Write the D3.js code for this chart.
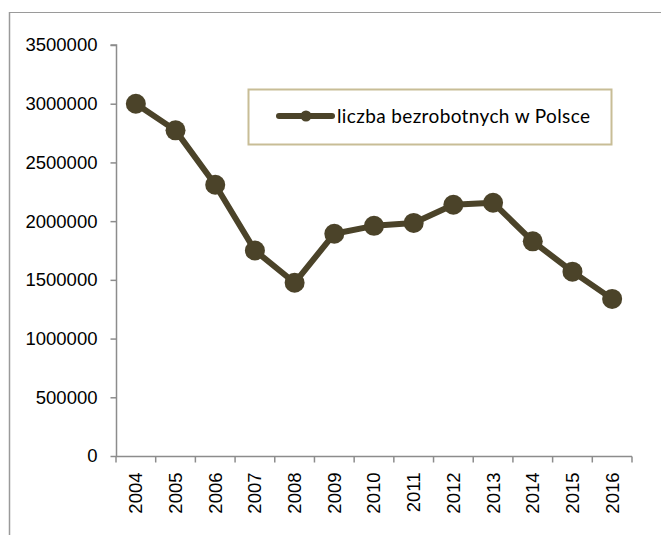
<!DOCTYPE html>
<html>
<head>
<meta charset="utf-8">
<script src="https://cdn.jsdelivr.net/npm/d3@7"></script>
<style>
  body { margin: 0; background: #fff; }
  svg { display: block; }
</style>
</head>
<body>
<script>
// dane
const years = ["2004", "2005", "2006", "2007", "2008", "2009", "2010",
               "2011", "2012", "2013", "2014", "2015", "2016"];
const unemployed = [3000000, 2773000, 2310000, 1750000, 1475000, 1893000, 1960000,
                    1985000, 2140000, 2157000, 1828000, 1570000, 1338000];
const yTicks = [0, 500000, 1000000, 1500000, 2000000, 2500000, 3000000, 3500000];
const seriesName = "liczba bezrobotnych w Polsce";

const width = 661;
const height = 535;
const lineColor = "#4b4329";
const axisColor = "#8c8c8c";

const svg = d3.select("body").append("svg")
    .attr("width", width)
    .attr("height", height);

// obramowanie (widoczne tylko górna i lewa krawędź)
svg.append("line")
    .attr("x1", 9).attr("x2", width).attr("y1", 12.5).attr("y2", 12.5)
    .attr("stroke", "#9a9a9a").attr("stroke-width", 1);
svg.append("line")
    .attr("x1", 9.5).attr("x2", 9.5).attr("y1", 12).attr("y2", height)
    .attr("stroke", "#9a9a9a").attr("stroke-width", 1.5);

const xScale = d3.scaleBand()
    .domain(years)
    .range([116, 632])
    .padding(0);

const yScale = d3.scaleLinear()
    .domain([0, 3500000])
    .range([456, 45]);

// oś Y
const yAxis = d3.axisLeft(yScale)
    .tickValues(yTicks)
    .tickFormat(d3.format("d"))
    .tickSize(6)
    .tickPadding(13);

const gy = svg.append("g")
    .attr("transform", "translate(116.5,0)")
    .call(yAxis);
gy.select(".domain").attr("stroke", axisColor).attr("stroke-width", 1.5).attr("d", `M-6,${yScale(3500000)}H0V${yScale(0)}`);
gy.selectAll(".tick line").attr("stroke", axisColor).attr("stroke-width", 1.5);
gy.selectAll(".tick text")
    .attr("fill", "#000")
    .style("font-family", "'Liberation Sans', Arial, sans-serif")
    .style("font-size", "18.5px");

// oś X
const xAxis = d3.axisBottom(xScale)
    .tickSize(0)
    .tickPadding(0);

const gx = svg.append("g")
    .attr("transform", `translate(0,${yScale(0) + 0.5})`)
    .call(xAxis);
gx.select(".domain").attr("stroke", axisColor).attr("stroke-width", 1.5)
    .attr("d", `M${xScale.range()[0]},0H${xScale.range()[1]}`);
gx.selectAll(".tick text")
    .attr("fill", "#000")
    .attr("transform", "rotate(-90)")
    .attr("x", -16)
    .attr("y", 0)
    .attr("dy", "0.35em")
    .attr("text-anchor", "end")
    .style("font-family", "'Liberation Sans', Arial, sans-serif")
    .style("font-size", "18.5px");

// podziałki między kategoriami
const boundaries = years.map(y => xScale(y)).concat([xScale.range()[1]]);
gx.selectAll(".bound")
    .data(boundaries)
    .enter().append("line")
    .attr("class", "bound")
    .attr("x1", d => d).attr("x2", d => d)
    .attr("y1", 0).attr("y2", 6)
    .attr("stroke", axisColor).attr("stroke-width", 1.5);

// seria
const data = years.map((y, i) => ({ year: y, value: unemployed[i] }));
const cx = d => xScale(d.year) + xScale.bandwidth() / 2;

const line = d3.line()
    .x(cx)
    .y(d => yScale(d.value));

svg.append("path")
    .datum(data)
    .attr("d", line)
    .attr("fill", "none")
    .attr("stroke", lineColor)
    .attr("stroke-width", 6)
    .attr("stroke-linejoin", "round");

svg.selectAll(".dot")
    .data(data)
    .enter().append("circle")
    .attr("class", "dot")
    .attr("cx", cx)
    .attr("cy", d => yScale(d.value))
    .attr("r", 10)
    .attr("fill", lineColor);

// legenda
const legend = svg.append("g");
legend.append("rect")
    .attr("x", 248.5).attr("y", 89.5)
    .attr("width", 363).attr("height", 55)
    .attr("fill", "#fff")
    .attr("stroke", "#c8bd96")
    .attr("stroke-width", 2);
legend.append("line")
    .attr("x1", 279).attr("x2", 332).attr("y1", 116).attr("y2", 116)
    .attr("stroke", lineColor).attr("stroke-width", 6)
    .attr("stroke-linecap", "round");
legend.append("circle")
    .attr("cx", 306).attr("cy", 116).attr("r", 5.5)
    .attr("fill", lineColor);
legend.append("text")
    .attr("x", 337).attr("y", 123)
    .attr("fill", "#000")
    .style("font-family", "Lato, 'Open Sans', sans-serif")
    .style("font-size", "19px")
    .attr("textLength", 253)
    .text(seriesName);
</script>
</body>
</html>
